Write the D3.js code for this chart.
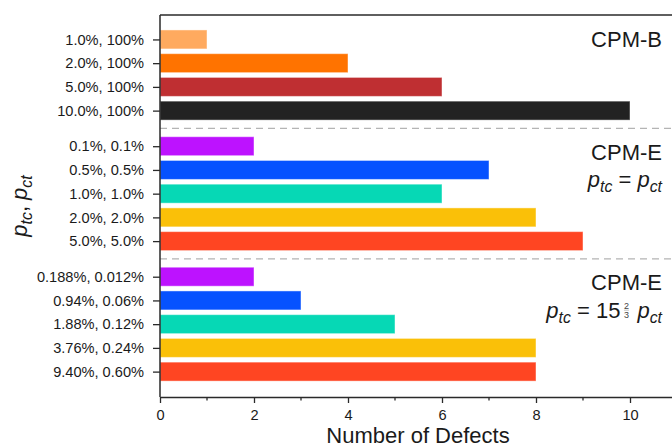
<!DOCTYPE html>
<html>
<head>
<meta charset="utf-8">
<script src="https://cdn.jsdelivr.net/npm/d3@7"></script>
<style>
  html, body { margin: 0; padding: 0; background: #fff; }
  svg { display: block; font-family: "Liberation Sans", Arial, sans-serif; }
</style>
</head>
<body>
<svg id="chart" width="672" height="448"></svg>
<script>
// CPM-B: p_tc varied, p_ct = 100%
const cpmBLabels = ["1.0%, 100%", "2.0%, 100%", "5.0%, 100%", "10.0%, 100%"];
const cpmBValues = [1, 4, 6, 10];
const cpmBColors = ["#FFAA5F", "#FF7300", "#BF2F32", "#222222"];

// CPM-E with p_tc = p_ct
const cpmEqLabels = ["0.1%, 0.1%", "0.5%, 0.5%", "1.0%, 1.0%", "2.0%, 2.0%", "5.0%, 5.0%"];
const cpmEqValues = [2, 7, 6, 8, 9];

// CPM-E with p_tc = 15 2/3 p_ct
const cpmRatioLabels = ["0.188%, 0.012%", "0.94%, 0.06%", "1.88%, 0.12%", "3.76%, 0.24%", "9.40%, 0.60%"];
const cpmRatioValues = [2, 3, 5, 8, 8];

const cpmEColors = ["#BD12FF", "#0652FF", "#06D8B5", "#FAC008", "#FF4522"];

const xTicks = [0, 2, 4, 6, 8, 10];
const xMinorTicks = [1, 3, 5, 7, 9];

// Stack the three groups top to bottom, with a wider gap between groups
const groupGap = 1.5;
const rows = [];
let pos = 0;
const separators = [];
[[cpmBLabels, cpmBValues, cpmBColors],
 [cpmEqLabels, cpmEqValues, cpmEColors],
 [cpmRatioLabels, cpmRatioValues, cpmEColors]].forEach(([labels, values, colors], g) => {
  if (g > 0) { separators.push(pos - 1 + groupGap / 2); pos += groupGap - 1; }
  labels.forEach((lab, i) => { rows.push({ label: lab, value: values[i], color: colors[i], pos: pos }); pos += 1; });
});

const svg = d3.select("#chart");
const plotLeft = 160, plotTop = 15, plotBottom = 397, plotRight = 677;
const axisColor = "#2a2a2a";

const x = d3.scaleLinear().domain([0, 11]).range([plotLeft, plotRight]);
const y = d3.scaleLinear().domain([-1.03, 15.07]).range([plotTop, plotBottom]);
const barH = (y(1) - y(0)) * 0.8;

// Group separators
svg.append("g").selectAll("line").data(separators).join("line")
  .attr("x1", plotLeft).attr("x2", plotRight)
  .attr("y1", d => y(d)).attr("y2", d => y(d))
  .attr("stroke", "#b4b4b4").attr("stroke-width", 1.2)
  .attr("stroke-dasharray", "7,5");

// Bars
svg.append("g").selectAll("rect").data(rows).join("rect")
  .attr("x", x(0))
  .attr("y", d => y(d.pos) - barH / 2)
  .attr("width", d => x(d.value) - x(0))
  .attr("height", barH)
  .attr("fill", d => d.color)
  .attr("stroke", "#fff").attr("stroke-opacity", 0.45).attr("stroke-width", 1);

// Top frame line
svg.append("line").attr("x1", plotLeft).attr("x2", plotRight).attr("y1", plotTop).attr("y2", plotTop)
  .attr("stroke", axisColor).attr("stroke-width", 1.5);

// X axis
const xAxis = svg.append("g").attr("transform", `translate(0,${plotBottom})`)
  .call(d3.axisBottom(x).tickValues(xTicks).tickSize(6).tickSizeOuter(0).tickPadding(7));
svg.append("g").attr("transform", `translate(0,${plotBottom})`)
  .selectAll("line").data(xMinorTicks).join("line")
  .attr("x1", d => x(d)).attr("x2", d => x(d)).attr("y1", 0).attr("y2", 3.5)
  .attr("stroke", axisColor).attr("stroke-width", 1.3);

// Y axis
const labelByPos = new Map(rows.map(r => [r.pos, r.label]));
const yAxis = svg.append("g").attr("transform", `translate(${plotLeft},0)`)
  .call(d3.axisLeft(y).tickValues(rows.map(r => r.pos)).tickFormat(p => labelByPos.get(p))
    .tickSize(7).tickSizeOuter(0).tickPadding(9));

[xAxis, yAxis].forEach(a => {
  a.select(".domain").attr("stroke", axisColor).attr("stroke-width", 1.5);
  a.selectAll(".tick line").attr("stroke", axisColor).attr("stroke-width", 1.3);
  a.selectAll(".tick text").attr("fill", "#1a1a1a").style("font-size", "14.6px")
    .style("font-family", "'Liberation Sans', Arial, sans-serif");
});
yAxis.select(".domain").attr("d", `M0,${plotTop}V${plotBottom}`);

// Axis titles
svg.append("text").attr("x", 418).attr("y", 443).attr("text-anchor", "middle")
  .style("font-size", "22px").attr("fill", "#1a1a1a").text("Number of Defects");

// Italic p with a lowered subscript; returns the offset the next run must undo
function pSub(sel, sub, size, resetDy) {
  sel.append("tspan").style("font-style", "italic").attr("dy", resetDy || 0).text("p");
  sel.append("tspan").style("font-style", "italic").style("font-size", (size * 0.72) + "px")
    .attr("dy", size * 0.22).text(sub);
  return -size * 0.22;
}

const yTitle = svg.append("text")
  .attr("transform", `translate(27,${(plotTop + plotBottom) / 2}) rotate(-90)`)
  .attr("text-anchor", "middle").style("font-size", "22px").attr("fill", "#1a1a1a");
let back = pSub(yTitle, "tc", 22);
yTitle.append("tspan").attr("dy", back).text(", ");
pSub(yTitle, "ct", 22);

// Group annotations
const annX = 662, annSize = 22;
function label(yv, txt) {
  svg.append("text").attr("x", annX).attr("y", yv).attr("text-anchor", "end")
    .style("font-size", annSize + "px").attr("fill", "#1a1a1a").text(txt);
}
label(46.5, "CPM-B");
label(159.5, "CPM-E");
label(290, "CPM-E");

const eq1 = svg.append("text").attr("x", annX).attr("y", 187).attr("text-anchor", "end")
  .style("font-size", annSize + "px").attr("fill", "#1a1a1a");
back = pSub(eq1, "tc", annSize);
eq1.append("tspan").attr("dy", back).text(" = ");
pSub(eq1, "ct", annSize);

// p_tc = 15 2/3 p_ct, assembled right to left
const eqY = 318;
const rhs = svg.append("text").attr("x", annX).attr("y", eqY).attr("text-anchor", "end")
  .style("font-size", annSize + "px").attr("fill", "#1a1a1a");
pSub(rhs, "ct", annSize);
const rhsLeft = rhs.node().getBBox().x;
const fracX = rhsLeft - 10;
svg.append("text").attr("x", fracX).attr("y", eqY - 9.5).attr("text-anchor", "middle")
  .style("font-size", "9px").attr("fill", "#444").text("2");
svg.append("line").attr("x1", fracX - 2.5).attr("x2", fracX + 2.5)
  .attr("y1", eqY - 7.8).attr("y2", eqY - 7.8).attr("stroke", "#999").attr("stroke-width", 0.6);
svg.append("text").attr("x", fracX).attr("y", eqY).attr("text-anchor", "middle")
  .style("font-size", "9px").attr("fill", "#444").text("3");
const lhs = svg.append("text").attr("x", fracX - 6).attr("y", eqY).attr("text-anchor", "end")
  .style("font-size", annSize + "px").attr("fill", "#1a1a1a");
back = pSub(lhs, "tc", annSize);
lhs.append("tspan").attr("dy", back).text(" = 15");
</script>
</body>
</html>
